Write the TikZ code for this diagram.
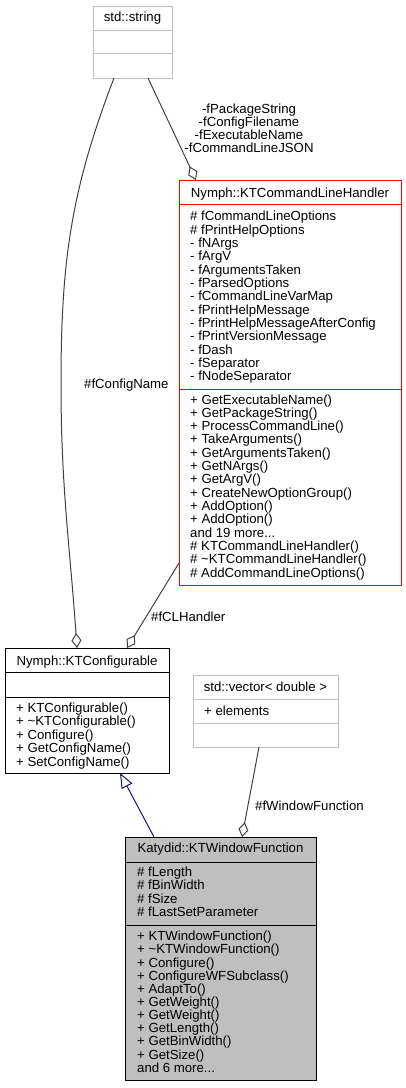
\documentclass[tikz,border=0pt]{standalone}
\usepackage{fontspec}
\setmainfont{Liberation Sans}
\usetikzlibrary{arrows.meta}
\newcommand\umlfont{\fontsize{13.2}{13.33}\selectfont}
\newcommand\threedots{...}
\definecolor{darkline}{HTML}{404040}
\definecolor{navyline}{HTML}{191970}
\definecolor{lightbox}{HTML}{BFBFBF}
\definecolor{redbox}{HTML}{FF0000}
\definecolor{wffill}{HTML}{BFBFBF}
\tikzset{
  cls/.style={draw, line width=1pt, anchor=north west, inner sep=0pt, outer sep=0pt},
  txt/.style={anchor=base west, inner sep=0pt, font=\umlfont},
  hdr/.style={anchor=base, inner sep=0pt, font=\umlfont},
  conn/.style={draw=darkline, line width=1pt},
  agg/.style={conn, -{Diamond[open,length=15pt,width=10pt]}},
  inh/.style={draw=navyline, line width=1pt, -{Triangle[open,length=15pt,width=12pt]}},
}
\begin{document}
\begin{tikzpicture}[x=1pt,y=-1pt]
\useasboundingbox (0,0) rectangle (406,1088);

% ---------- std::string ----------
\node[cls, draw=lightbox, minimum width=79pt, minimum height=72pt] (str) at (93,6) {};
\draw[lightbox, line width=1pt] (93,30) -- (172,30) (93,53) -- (172,53);
\node[hdr] (strh) at (132.5,21) {std::string};

% ---------- Nymph::KTCommandLineHandler ----------
\node[cls, draw=redbox, minimum width=222pt, minimum height=405pt] (cmd) at (179,180) {};
\draw[redbox, line width=1pt] (179,204) -- (401,204) (179,389) -- (401,389);
\node[hdr] (cmdh) at (290,197) {Nymph::KTCommandLineHandler};
\foreach \t [count=\i from 0] in {%
  \# fCommandLineOptions, \# fPrintHelpOptions, - fNArgs, - fArgV,
  - fArgumentsTaken, - fParsedOptions, - fCommandLineVarMap,
  - fPrintHelpMessage, - fPrintHelpMessageAfterConfig,
  - fPrintVersionMessage, - fDash, - fSeparator, - fNodeSeparator}
  \node[txt] (cmda\i) at (190,220.7+13.33*\i) {\t};
\foreach \t [count=\i from 0] in {%
  + GetExecutableName(), + GetPackageString(), + ProcessCommandLine(),
  + TakeArguments(), + GetArgumentsTaken(), + GetNArgs(), + GetArgV(),
  + CreateNewOptionGroup(), + AddOption(), + AddOption(), and 19 more\threedots,
  \# KTCommandLineHandler(), \# \textasciitilde{}KTCommandLineHandler(),
  \# AddCommandLineOptions()}
  \node[txt] (cmdm\i) at (190,404+13.33*\i) {\t};

% ---------- Nymph::KTConfigurable ----------
\node[cls, minimum width=164pt, minimum height=125pt] (cfg) at (5,648) {};
\draw[line width=1pt] (5,672) -- (169,672) (5,697) -- (169,697);
\node[hdr] (cfgh) at (87,665) {Nymph::KTConfigurable};
\foreach \t [count=\i from 0] in {%
  + KTConfigurable(), + \textasciitilde{}KTConfigurable(), + Configure(),
  + GetConfigName(), + SetConfigName()}
  \node[txt] (cfgm\i) at (16,712.3+13.5*\i) {\t};

% ---------- std::vector< double > ----------
\node[cls, draw=lightbox, minimum width=145pt, minimum height=72pt] (vec) at (193,675) {};
\draw[lightbox, line width=1pt] (193,699) -- (338,699) (193,723) -- (338,723);
\node[hdr] (vech) at (265.5,691.7) {std::vector< double >};
\node[txt] (veca0) at (204,715.7) {+ elements};

% ---------- Katydid::KTWindowFunction ----------
\node[cls, fill=wffill, minimum width=191pt, minimum height=243pt] (wf) at (125,837) {};
\draw[line width=1pt] (125,862) -- (316,862) (125,925) -- (316,925);
\node[hdr] (wfh) at (220.5,852.3) {Katydid::KTWindowFunction};
\foreach \t [count=\i from 0] in {%
  \# fLength, \# fBinWidth, \# fSize, \# fLastSetParameter}
  \node[txt] (wfa\i) at (137,876.3+13.47*\i) {\t};
\foreach \t [count=\i from 0] in {%
  + KTWindowFunction(), + \textasciitilde{}KTWindowFunction(), + Configure(),
  + ConfigureWFSubclass(), + AdaptTo(), + GetWeight(), + GetWeight(),
  + GetLength(), + GetBinWidth(), + GetSize(), and 6 more\threedots}
  \node[txt] (wfm\i) at (137,940.7+13.16*\i) {\t};

% ---------- connectors ----------
% std::string -> KTConfigurable (#fConfigName)
\draw[agg] ([xshift=21pt]str.south west) to[out=-111,in=90] (61,384)
  to[out=-90,in=94] ([xshift=72pt]cfg.north west);
\node[txt] (lblcn) at (84,388) {\#fConfigName};

% std::string -> KTCommandLineHandler
\draw[agg] ([xshift=55pt]str.south west) -- ([xshift=17pt]cmd.north west);
\foreach \t [count=\i from 0] in {-fPackageString, -fConfigFilename,
  -fExecutableName, -fCommandLineJSON}
  \node[hdr] (lblstr\i) at (249,113+13.33*\i) {\t};

% KTCommandLineHandler -> KTConfigurable (#fCLHandler)
\draw[agg] ([yshift=22pt]cmd.south west) -- ([xshift=122pt]cfg.north west);
\node[txt] (lblcl) at (151,621) {\#fCLHandler};

% std::vector -> KTWindowFunction (#fWindowFunction)
\draw[agg] ([xshift=66pt]vec.south west) -- ([xshift=117pt]wf.north west);
\node[txt] (lblwf) at (255,810) {\#fWindowFunction};

% inheritance KTWindowFunction -> KTConfigurable
\draw[inh] ([xshift=29pt]wf.north west) -- ([xshift=115pt]cfg.south west);
\end{tikzpicture}
\end{document}
